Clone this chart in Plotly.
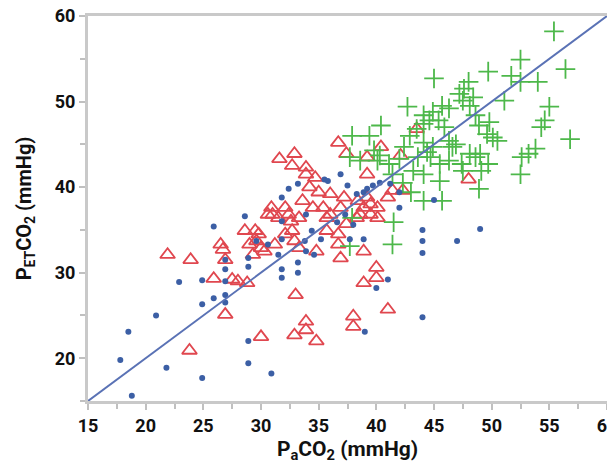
import plotly.graph_objects as go

# Blue dots
blue_x = [18.8, 17.8, 18.5, 21.8, 20.9, 22.9, 24.9, 24.9, 24.9, 25.9, 25.9, 26.9, 26.9, 26.9, 26.9,
          28.6, 28.9, 28.9, 28.9, 28.9, 30.9, 31.8, 31.8, 31.8, 31.8, 31.8, 32.4, 33.2, 33.2, 33.2,
          33.8, 33.9, 34.4, 35.2, 35.5, 35.8, 36.9, 37.5, 37.7, 38.9, 39.0, 38.9, 39.2, 40.0, 41.0,
          41.2, 42.0, 42.0, 44.0, 44.0, 44.0, 44.0, 45.0, 47.0, 49.0, 40.3, 39.7, 38.3, 34.6, 36.6,
          33.9, 30.6, 29.6, 26.9, 31.5, 37.3, 38.0]
blue_y = [15.6, 19.8, 23.1, 18.9, 25.0, 28.9, 17.7, 26.3, 29.1, 27.0, 35.4, 26.5, 27.4, 30.4, 29.0,
          36.6, 22.0, 19.4, 30.7, 31.7, 18.2, 30.4, 29.4, 38.8, 36.0, 33.9, 39.8, 30.0, 31.2, 40.4,
          33.7, 32.5, 34.9, 33.9, 40.9, 40.7, 41.5, 40.2, 33.9, 33.9, 23.1, 39.4, 39.8, 28.2, 29.2,
          40.4, 37.6, 39.4, 35.0, 33.7, 32.3, 24.8, 38.5, 33.7, 35.1, 40.5, 40.2, 39.2, 32.1, 35.9,
          36.8, 33.3, 33.7, 31.5, 32.1, 36.8, 35.6]

# Red open triangles
red_x = [21.9, 23.9, 23.8, 25.9, 26.5, 26.7, 26.9, 26.9, 27.5, 28.0, 28.8, 28.6, 29.0, 29.5, 29.8,
         30.0, 30.3, 29.3, 30.0, 30.9, 31.0, 31.5, 31.2, 31.6, 32.1, 32.4, 32.6, 32.9, 32.7, 32.7,
         32.9, 33.0, 32.9, 33.3, 33.6, 33.9, 33.9, 34.2, 33.9, 33.9, 34.7, 35.0, 34.8, 34.8, 35.4,
         35.7, 36.0, 36.7, 36.9, 36.7, 36.7, 36.9, 37.4, 37.2, 37.4, 38.0, 38.0, 38.4, 38.6, 38.9,
         38.9, 39.2, 39.2, 39.2, 39.5, 40.0, 40.0, 40.1, 40.1, 40.4, 41.0, 41.0, 42.1, 42.3, 43.5,
         48.0, 30.6, 32.1, 29.6, 33.3, 34.5, 36.0, 35.7, 38.3, 39.5, 38.9, 41.4]
red_y = [32.1, 31.5, 20.9, 29.3, 33.3, 32.7, 31.5, 25.1, 29.2, 29.0, 28.8, 34.9, 33.3, 34.9, 34.5,
         32.9, 32.5, 32.1, 22.5, 37.6, 36.8, 36.4, 33.3, 43.3, 37.6, 36.8, 36.0, 43.9, 42.5, 34.9,
         33.7, 27.4, 22.7, 36.4, 38.4, 42.3, 41.5, 40.0, 24.3, 23.3, 41.1, 39.4, 32.5, 22.0, 37.6,
         34.9, 39.2, 45.2, 37.6, 34.5, 33.3, 31.7, 43.9, 38.8, 35.7, 24.9, 23.7, 38.4, 36.8, 32.5,
         28.8, 43.5, 41.5, 38.8, 38.0, 30.6, 29.4, 37.6, 36.4, 44.7, 38.8, 25.7, 43.7, 39.6, 46.8,
         40.9, 36.8, 34.5, 33.7, 32.9, 37.6, 36.8, 36.4, 36.4, 36.8, 37.6, 39.6]

# Green crosses
green_x = [55.4, 52.5, 56.4, 49.7, 45.0, 51.7, 52.5, 54.0, 48.0, 47.6, 47.2, 51.1, 48.4, 48.1, 55.0,
           42.7, 45.7, 46.3, 44.1, 44.6, 44.1, 54.6, 54.3, 49.8, 48.9, 40.4, 45.9, 45.4, 43.5, 42.9,
           50.1, 49.6, 56.8, 37.9, 39.4, 46.9, 44.1, 44.9, 46.3, 53.8, 53.2, 52.6, 52.5, 39.8, 40.3,
           40.1, 44.4, 44.7, 46.3, 47.4, 48.6, 49.7, 49.1, 47.5, 43.2, 44.1, 45.5, 42.0, 41.1, 41.4,
           48.9, 42.3, 43.0, 44.1, 45.7, 41.5, 41.4, 37.7, 37.9, 37.7, 38.6, 44.9, 47.5, 48.6, 50.5,
           46.6, 48.1, 45.5, 42.4, 43.6, 49.0]
green_y = [58.2, 54.9, 53.8, 53.5, 52.7, 53.0, 52.3, 52.3, 52.3, 51.5, 50.9, 50.1, 50.5, 49.5, 49.4,
           49.4, 49.5, 49.2, 48.4, 47.8, 47.4, 47.8, 47.0, 47.6, 47.2, 47.2, 47.0, 47.8, 46.8, 46.0,
           45.8, 46.2, 45.6, 46.0, 46.0, 45.0, 45.2, 44.7, 45.4, 44.5, 43.9, 43.5, 41.5, 44.3, 43.7,
           43.1, 44.1, 43.5, 43.1, 42.7, 43.5, 42.7, 41.9, 41.9, 41.9, 41.5, 40.7, 43.3, 42.7, 41.5,
           39.8, 40.5, 39.4, 38.4, 38.4, 35.9, 33.3, 33.1, 36.4, 43.5, 43.1, 48.8, 50.1, 48.4, 45.4,
           44.7, 43.9, 42.7, 44.7, 43.5, 43.9]

line_x = [15, 60]
line_y = [15, 60]

fig = go.Figure()
fig.add_trace(go.Scatter(x=red_x, y=red_y, mode="markers",
                         marker=dict(symbol="triangle-up-open", size=13, color="#e0474f",
                                     line=dict(width=1.8, color="#e0474f")),
                         showlegend=False))
fig.add_trace(go.Scatter(x=green_x, y=green_y, mode="markers",
                         marker=dict(symbol="cross-thin", size=14,
                                     line=dict(width=1.8, color="#4db84a")),
                         showlegend=False))
fig.add_trace(go.Scatter(x=blue_x, y=blue_y, mode="markers",
                         marker=dict(symbol="circle", size=6, color="#3c5fa5"),
                         showlegend=False))
fig.add_trace(go.Scatter(x=line_x, y=line_y, mode="lines",
                         line=dict(color="#5a72b5", width=2), showlegend=False))

font_family = "Roboto, Liberation Sans, sans-serif"
axis_common = dict(
    showline=True, linecolor="#c9c9c9", linewidth=3, mirror=True,
    showgrid=False, zeroline=False, automargin=False,
    ticks="outside", ticklen=6, tickwidth=1.5, tickcolor="#c0c0c0",
    ticklabeloverflow="allow",
    tickfont=dict(family=font_family, size=18, color="#111111", weight="bold"),
)

# The page body adds an 8px offset; margins compensate for it.
fig.update_layout(
    width=607, height=456,
    margin=dict(l=80, r=8, t=8, b=63),
    plot_bgcolor="white", paper_bgcolor="white",
    xaxis=dict(range=[15, 60], dtick=5, tick0=15,
               minor=dict(dtick=2.5, ticks="outside", ticklen=5, tickcolor="#c0c0c0", tickwidth=1.5),
               title=dict(text="P<sub>a</sub>CO<sub>2</sub> (mmHg)", standoff=11,
                          font=dict(family=font_family, size=21, color="#111111", weight="bold")),
               **axis_common),
    yaxis=dict(range=[15, 60], dtick=10, tick0=20,
               minor=dict(dtick=5, ticks="outside", ticklen=5, tickcolor="#c0c0c0", tickwidth=1.5),
               title=dict(text="P<sub>ET</sub>CO<sub>2</sub> (mmHg)", standoff=18,
                          font=dict(family=font_family, size=20, color="#111111", weight="bold")),
               **axis_common),
)

fig.write_html("out.html")
